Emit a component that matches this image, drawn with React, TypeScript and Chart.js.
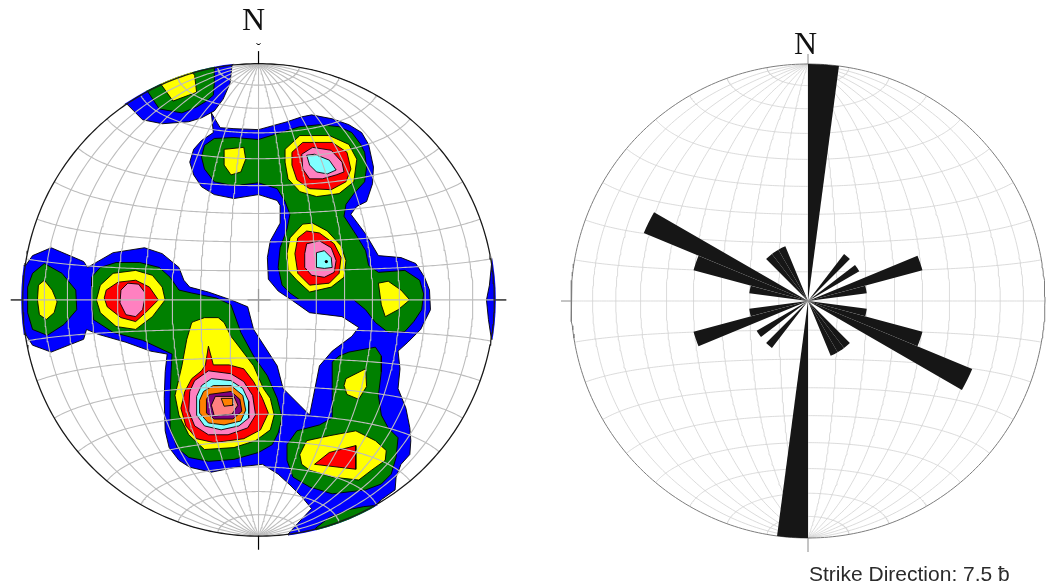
import React, { useEffect, useRef } from "react";
import { Chart, registerables } from "chart.js";

Chart.register(...registerables);

type Pt = [number, number];

// Net coordinates: origin at the net centre, x towards E, y towards N,
// primitive circle radius NET_R.
const NET_R = 240;
const GRID_STEP = 10;

// ---- Pole density contours (equal-area net) ----
// level 1 (blue)
const blueNorthWest: Pt[] = [[-134,199],[-118,183],[-98,179],[-71,181],[-58,185],[-45,192],[-36,204],[-29,220],[-27,238],[-18,250],[-58,262],[-158,232],[-150,200]];
const blueMain: Pt[] = [[-48,190],[-39,175],[-25,174],[0,173],[29,181],[44,186],[54,188],[75,184],[92,178],[105,170],[112,158],[117,135],[116,118],[110,100],[100,95],[94,87],[109,67],[122,45],[145,43],[160,37],[169,23],[174,10],[175,-10],[165,-30],[152,-43],[142,-52],[144,-70],[142,-90],[150,-110],[154,-130],[155,-143],[154,-157],[145,-167],[140,-180],[139,-193],[125,-203],[120,-208],[140,-222],[40,-262],[30,-238],[40,-227],[54,-212],[44,-200],[32,-188],[20,-177],[4,-167],[-23,-170],[-48,-175],[-70,-170],[-81,-163],[-91,-150],[-95,-133],[-96,-100],[-95,-73],[-93,-55],[-110,-52],[-135,-43],[-163,-35],[-175,-30],[-178,-40],[-211,-53],[-230,-46],[-237,-35],[-262,-35],[-262,38],[-237,35],[-230,45],[-211,53],[-178,39],[-174,33],[-148,48],[-116,53],[-98,47],[-81,33],[-76,20],[-70,13],[-51,8],[-28,0],[-11,-7],[-5,-30],[19,-67],[25,-90],[42,-107],[52,-117],[62,-67],[75,-52],[95,-37],[102,-28],[85,-17],[52,-13],[35,-1],[20,9],[10,21],[9,43],[12,60],[22,78],[22,96],[19,101],[0,107],[-25,103],[-45,107],[-58,115],[-66,127],[-70,140],[-66,153],[-58,162],[-46,170]];
const blueEastRim: Pt[] = [[238,45],[235,15],[232,0],[234,-20],[237,-40],[262,-40],[262,45]];
// level 2 (green)
const greenNorthWest: Pt[] = [[-113,212],[-101,194],[-78,190],[-63,196],[-53,202],[-46,208],[-45,220],[-45,238],[-38,256],[-108,242],[-130,222]];
const greenWest: Pt[] = [[-218,37],[-200,27],[-186,10],[-185,-10],[-198,-25],[-215,-36],[-230,-30],[-235,-13],[-235,13],[-230,27]];
const greenCentral: Pt[] = [[-170,23],[-161,33],[-145,38],[-121,38],[-101,33],[-90,23],[-81,10],[-68,7],[-43,2],[-28,-5],[-18,-33],[-5,-57],[9,-77],[19,-100],[24,-120],[20,-135],[14,-147],[0,-155],[-25,-162],[-51,-164],[-71,-160],[-83,-150],[-90,-130],[-90,-100],[-89,-73],[-88,-55],[-118,-41],[-148,-33],[-168,-20],[-170,0]];
const greenNorth: Pt[] = [[-55,157],[-45,164],[-25,165],[0,163],[29,172],[42,176],[62,178],[82,176],[95,170],[104,158],[108,150],[110,135],[108,120],[97,108],[89,97],[87,85],[100,65],[109,50],[112,35],[122,28],[149,30],[164,20],[168,6],[166,-10],[158,-22],[149,-32],[132,-33],[119,-23],[109,-10],[97,0],[72,0],[42,0],[32,7],[24,15],[20,33],[22,53],[29,72],[32,87],[27,100],[19,113],[0,119],[-25,116],[-45,120],[-55,133],[-58,145]];
const greenSouthEast: Pt[] = [[92,-53],[119,-48],[125,-57],[125,-73],[122,-97],[125,-117],[132,-130],[142,-140],[140,-160],[135,-177],[125,-187],[109,-193],[75,-197],[52,-190],[35,-180],[29,-163],[29,-147],[39,-133],[62,-127],[75,-120],[75,-90],[75,-63],[82,-57]];
const greenSouthRim: Pt[] = [[58,-232],[72,-221],[92,-213],[107,-210],[117,-209],[127,-225],[72,-262]];
// level 3 (yellow)
const yellowNorthWest: Pt[] = [[-100,220],[-87,202],[-63,211],[-65,228],[-73,240],[-98,232]];
const yellowWest: Pt[] = [[-224,15],[-218,20],[-210,10],[-205,-2],[-208,-13],[-216,-20],[-223,-15],[-225,0]];
const yellowWestPeak: Pt[] = [[-161,15],[-148,27],[-125,30],[-108,25],[-98,13],[-95,0],[-108,-17],[-125,-30],[-145,-27],[-161,-13],[-165,0]];
const yellowCentral: Pt[] = [[-68,-23],[-73,-40],[-78,-67],[-85,-97],[-81,-117],[-71,-137],[-55,-152],[-25,-150],[-3,-143],[12,-132],[16,-117],[12,-100],[5,-90],[-5,-67],[-18,-50],[-28,-37],[-35,-23],[-41,-18],[-55,-18],[-66,-22]];
const yellowNorthSpot: Pt[] = [[-35,153],[-15,155],[-13,143],[-18,130],[-28,127],[-35,137]];
const yellowNorthPeak: Pt[] = [[27,153],[42,167],[72,167],[92,158],[100,143],[97,120],[82,108],[59,105],[42,110],[30,123],[27,140]];
const yellowMidPeak: Pt[] = [[32,63],[45,77],[55,78],[70,70],[84,55],[89,40],[87,23],[74,13],[52,8],[39,20],[30,30],[29,47]];
const yellowEast: Pt[] = [[122,17],[132,19],[145,10],[154,0],[142,-10],[129,-17],[125,-5]];
const yellowEastBranch: Pt[] = [[89,-80],[109,-70],[110,-88],[102,-101],[90,-96],[87,-87]];
const yellowSouthEast: Pt[] = [[42,-157],[49,-143],[72,-138],[99,-133],[119,-143],[130,-153],[129,-163],[115,-173],[102,-183],[75,-180],[52,-173],[44,-167]];
// level 4 (red)
const redWestPeak: Pt[] = [[-155,10],[-143,18],[-125,20],[-111,13],[-102,0],[-115,-13],[-125,-22],[-140,-18],[-154,-7],[-157,2]];
const redCentral: Pt[] = [[-51,-47],[-46,-66],[-30,-66],[-15,-70],[-5,-83],[4,-100],[10,-115],[2,-132],[-15,-141],[-45,-145],[-63,-141],[-74,-128],[-79,-110],[-75,-93],[-68,-80],[-58,-72],[-54,-66]];
const redNorthPeak: Pt[] = [[34,150],[45,160],[75,160],[90,150],[94,133],[89,120],[74,112],[52,113],[39,122],[34,137]];
const redMidPeak: Pt[] = [[40,63],[49,70],[62,68],[77,57],[84,43],[82,27],[72,17],[52,15],[40,27],[37,47]];
const redSouthEast: Pt[] = [[57,-167],[72,-155],[99,-148],[99,-172],[82,-170]];
// level 5 (pink)
const pinkWestPeak: Pt[] = [[-140,10],[-133,17],[-122,16],[-116,8],[-116,0],[-118,-10],[-125,-17],[-135,-15],[-141,-3]];
const pinkCentral: Pt[] = [[-65,-82],[-51,-72],[-28,-75],[-15,-83],[-6,-97],[-3,-117],[-11,-130],[-31,-137],[-51,-137],[-65,-128],[-71,-113],[-70,-93]];
const pinkNorthPeak: Pt[] = [[44,148],[55,155],[74,152],[85,140],[87,130],[79,127],[65,123],[52,123],[45,133]];
const pinkMidPeak: Pt[] = [[49,57],[62,60],[74,53],[79,40],[77,28],[67,23],[54,25],[47,33],[47,47]];
// level 6 (cyan)
const cyanCentral: Pt[] = [[-58,-87],[-48,-80],[-28,-82],[-16,-90],[-10,-103],[-10,-120],[-20,-128],[-38,-132],[-55,-128],[-63,-117],[-63,-98]];
const cyanNorthPeak: Pt[] = [[49,147],[57,148],[72,142],[79,132],[70,128],[59,130],[52,137]];
const cyanMidPeak: Pt[] = [[59,48],[67,50],[74,43],[75,33],[67,32],[59,33]];
// levels 7-10 (central maximum)
const orangeCentral: Pt[] = [[-56,-93],[-46,-87],[-28,-87],[-16,-97],[-13,-112],[-18,-123],[-35,-127],[-51,-125],[-60,-115],[-60,-102]];
const purpleCentral: Pt[] = [[-50,-96],[-28,-93],[-19,-101],[-17,-113],[-26,-121],[-45,-121],[-53,-115],[-53,-101]];
const salmonCentral: Pt[] = [[-44,-98],[-25,-98],[-21,-107],[-27,-116],[-45,-118],[-48,-107]];
const coreCentral: Pt[] = [[-38,-100],[-26,-100],[-26,-107],[-35,-108]];
const peakMarks: Pt[] = [[69,39]];

const contourLevels = [
  { color: "#0000ff", polygons: [blueNorthWest, blueMain, blueEastRim] },
  { color: "#008000", polygons: [greenNorthWest, greenWest, greenCentral, greenNorth, greenSouthEast, greenSouthRim] },
  { color: "#ffff00", polygons: [yellowNorthWest, yellowWest, yellowWestPeak, yellowCentral, yellowNorthSpot, yellowNorthPeak, yellowMidPeak, yellowEast, yellowEastBranch, yellowSouthEast] },
  { color: "#ff0000", polygons: [redWestPeak, redCentral, redNorthPeak, redMidPeak, redSouthEast] },
  { color: "#ff80c0", polygons: [pinkWestPeak, pinkCentral, pinkNorthPeak, pinkMidPeak] },
  { color: "#80ffff", polygons: [cyanCentral, cyanNorthPeak, cyanMidPeak] },
  { color: "#ff8000", polygons: [orangeCentral] },
  { color: "#800080", polygons: [purpleCentral] },
  { color: "#ff8080", polygons: [salmonCentral] },
  { color: "#ff8000", polygons: [coreCentral] },
];

// ---- Strike rose: counts per 7.5° bin from 0° to 180° ----
const ROSE_BIN_DEG = 7.5;
const strikeCounts = [4, 0, 0, 0, 0, 1, 0, 1, 0, 2, 1, 0, 0, 1, 2, 3, 0, 0, 1, 1, 1, 0, 0, 0];
const ROSE_MAX = 4;
const STRIKE_CAPTION = "Strike Direction: 7.5 ƀ";

// ---- Layout of the two nets (canvas px) ----
const LEFT_FRAME = { left: 0, width: 520, height: 588, cx: 258.5, cy: 300, r: 239.5 };
const RIGHT_FRAME = { left: 560, width: 486, height: 588, cx: 248, cy: 301, r: 237 };

type XY = { x: number; y: number };

function projectEqualArea(lonDeg: number, latDeg: number): XY {
  const lon = (lonDeg * Math.PI) / 180;
  const lat = (latDeg * Math.PI) / 180;
  const k = Math.sqrt(1 / (1 + Math.cos(lat) * Math.cos(lon)));
  return { x: NET_R * k * Math.cos(lat) * Math.sin(lon), y: NET_R * k * Math.sin(lat) };
}

// Great circles through N and S, and small circles about the N-S axis.
function graticule(): XY[][] {
  const lines: XY[][] = [];
  for (let lon = -90 + GRID_STEP; lon < 90; lon += GRID_STEP) {
    const pts: XY[] = [];
    for (let lat = -90; lat <= 90; lat += 1) pts.push(projectEqualArea(lon, lat));
    lines.push(pts);
  }
  for (let lat = -90 + GRID_STEP; lat < 90; lat += GRID_STEP) {
    const pts: XY[] = [];
    for (let lon = -90; lon <= 90; lon += 1) pts.push(projectEqualArea(lon, lat));
    lines.push(pts);
  }
  return lines;
}

function primitiveCircle(): XY[] {
  const pts: XY[] = [];
  for (let a = 0; a <= 360; a += 1) {
    const t = (a * Math.PI) / 180;
    pts.push({ x: NET_R * Math.cos(t), y: NET_R * Math.sin(t) });
  }
  return pts;
}

const closeRing = (poly: Pt[]): XY[] => [...poly, poly[0]].map(([x, y]) => ({ x, y }));

function netScales(f: typeof LEFT_FRAME) {
  const s = f.r / NET_R;
  return {
    x: { type: "linear", display: false, bounds: "data", min: -f.cx / s, max: (f.width - f.cx) / s },
    y: { type: "linear", display: false, bounds: "data", min: -(f.height - f.cy) / s, max: f.cy / s },
  };
}

function netPixels(chart: any) {
  const { x, y } = chart.scales;
  const cx = x.getPixelForValue(0);
  const cy = y.getPixelForValue(0);
  return { cx, cy, r: x.getPixelForValue(NET_R) - cx };
}

function line(ctx: CanvasRenderingContext2D, x1: number, y1: number, x2: number, y2: number) {
  ctx.beginPath();
  ctx.moveTo(x1, y1);
  ctx.lineTo(x2, y2);
  ctx.stroke();
}

const baseOptions = (f: typeof LEFT_FRAME) => ({
  responsive: false,
  animation: false,
  events: [],
  layout: { padding: 0 },
  plugins: { legend: { display: false }, tooltip: { enabled: false }, title: { display: false } },
  scales: netScales(f),
});

// Clips the contour fills to the primitive circle and adds the frame marks.
const contourFramePlugin = {
  id: "contourFrame",
  beforeDatasetsDraw(chart: any) {
    const { ctx } = chart;
    const { cx, cy, r } = netPixels(chart);
    ctx.save();
    ctx.beginPath();
    ctx.arc(cx, cy, r + 1.5, 0, Math.PI * 2);
    ctx.clip();
  },
  afterDatasetsDraw(chart: any) {
    const ctx: CanvasRenderingContext2D = chart.ctx;
    ctx.restore();
    const { cx, cy, r } = netPixels(chart);
    ctx.save();
    ctx.lineCap = "butt";
    ctx.strokeStyle = "#3c3c3c";
    ctx.lineWidth = 1.6;
    line(ctx, cx - r - 12, cy, cx - r, cy);
    line(ctx, cx + r, cy, cx + r + 12, cy);
    ctx.strokeStyle = "#000";
    ctx.lineWidth = 1.2;
    line(ctx, cx, cy - r - 13, cx, cy - r);
    line(ctx, cx, cy + r, cx, cy + r + 14);
    ctx.strokeStyle = "#9a9a9a";
    ctx.lineWidth = 1.3;
    line(ctx, cx - 11, cy, cx + 12, cy);
    line(ctx, cx, cy - 11, cx, cy + 12);
    ctx.strokeStyle = "#000";
    ctx.lineWidth = 1;
    ctx.beginPath();
    ctx.arc(cx, cy - r - 21.5, 2, 0.1 * Math.PI, 0.9 * Math.PI);
    ctx.stroke();
    ctx.fillStyle = "#111";
    ctx.font = '32px "Liberation Serif", "Times New Roman", serif';
    ctx.textAlign = "center";
    ctx.textBaseline = "alphabetic";
    ctx.fillText("N", cx - 5, 30);
    ctx.restore();
  },
};

const roseFramePlugin = {
  id: "roseFrame",
  afterDraw(chart: any) {
    const ctx: CanvasRenderingContext2D = chart.ctx;
    const { cx, cy, r } = netPixels(chart);
    ctx.save();
    ctx.strokeStyle = "#8a8a8a";
    ctx.lineWidth = 1;
    line(ctx, cx, cy - r - 10, cx, cy - r);
    line(ctx, cx, cy + r, cx, cy + r + 14);
    line(ctx, cx - r - 10, cy, cx - r, cy);
    ctx.fillStyle = "#111";
    ctx.font = '32px "Liberation Serif", "Times New Roman", serif';
    ctx.textAlign = "center";
    ctx.textBaseline = "alphabetic";
    ctx.fillText("N", cx - 2.5, 54);
    ctx.fillStyle = "#2b2b2b";
    ctx.font = '21px "Liberation Sans", Arial, sans-serif';
    ctx.textAlign = "left";
    ctx.fillText(STRIKE_CAPTION, cx + 1, 581);
    ctx.restore();
  },
};

function contourConfig(): any {
  const datasets: any[] = [];
  contourLevels.forEach((level, li) => {
    level.polygons.forEach((poly) =>
      datasets.push({
        data: closeRing(poly),
        backgroundColor: level.color,
        borderColor: "#000",
        borderWidth: 0.9,
        fill: "shape",
        pointRadius: 0,
        order: 100 - li,
      })
    );
  });
  datasets.push({
    data: peakMarks.map(([x, y]) => ({ x, y })),
    showLine: false,
    pointRadius: 1.6,
    pointBorderWidth: 0,
    pointBackgroundColor: "#000",
    order: 50,
  });
  graticule().forEach((pts) =>
    datasets.push({ data: pts, borderColor: "#bdbdbd", borderWidth: 1.1, pointRadius: 0, fill: false, order: 20 })
  );
  datasets.push({ data: primitiveCircle(), borderColor: "#1a1a1a", borderWidth: 1.3, pointRadius: 0, fill: false, order: 10 });
  return { type: "line", data: { datasets }, options: baseOptions(LEFT_FRAME), plugins: [contourFramePlugin] };
}

function roseGridConfig(): any {
  const datasets: any[] = graticule().map((pts) => ({
    data: pts, borderColor: "#d2d2d2", borderWidth: 0.8, pointRadius: 0, fill: false, order: 20,
  }));
  datasets.push({ data: primitiveCircle(), borderColor: "#7d7d7d", borderWidth: 1, pointRadius: 0, fill: false, order: 10 });
  return { type: "line", data: { datasets }, options: baseOptions(RIGHT_FRAME), plugins: [roseFramePlugin] };
}

function roseConfig(): any {
  // Strikes are axial, so each bin is also plotted at the opposite azimuth.
  const counts = [...strikeCounts, ...strikeCounts];
  const labels = counts.map((_, i) => `${i * ROSE_BIN_DEG}°`);
  return {
    type: "polarArea",
    data: { labels, datasets: [{ data: counts, backgroundColor: "#161616", borderWidth: 0 }] },
    options: {
      responsive: false,
      animation: false,
      events: [],
      layout: { padding: 0 },
      plugins: { legend: { display: false }, tooltip: { enabled: false } },
      scales: { r: { display: false, min: 0, max: ROSE_MAX } },
    },
  };
}

export default function App() {
  const contourRef = useRef<HTMLCanvasElement>(null);
  const gridRef = useRef<HTMLCanvasElement>(null);
  const roseRef = useRef<HTMLCanvasElement>(null);

  useEffect(() => {
    const charts = [
      new Chart(contourRef.current as HTMLCanvasElement, contourConfig()),
      new Chart(gridRef.current as HTMLCanvasElement, roseGridConfig()),
      new Chart(roseRef.current as HTMLCanvasElement, roseConfig()),
    ];
    return () => charts.forEach((c) => c.destroy());
  }, []);

  const roseSize = RIGHT_FRAME.r * 2;
  return (
    <div style={{ position: "fixed", left: 0, top: 0, width: 1046, height: 588, background: "#fff", overflow: "hidden" }}>
      <canvas ref={contourRef} width={LEFT_FRAME.width} height={LEFT_FRAME.height}
        style={{ position: "absolute", left: LEFT_FRAME.left, top: 0 }} />
      <canvas ref={gridRef} width={RIGHT_FRAME.width} height={RIGHT_FRAME.height}
        style={{ position: "absolute", left: RIGHT_FRAME.left, top: 0 }} />
      <canvas ref={roseRef} width={roseSize} height={roseSize}
        style={{ position: "absolute", left: RIGHT_FRAME.left + RIGHT_FRAME.cx - RIGHT_FRAME.r, top: RIGHT_FRAME.cy - RIGHT_FRAME.r }} />
    </div>
  );
}
